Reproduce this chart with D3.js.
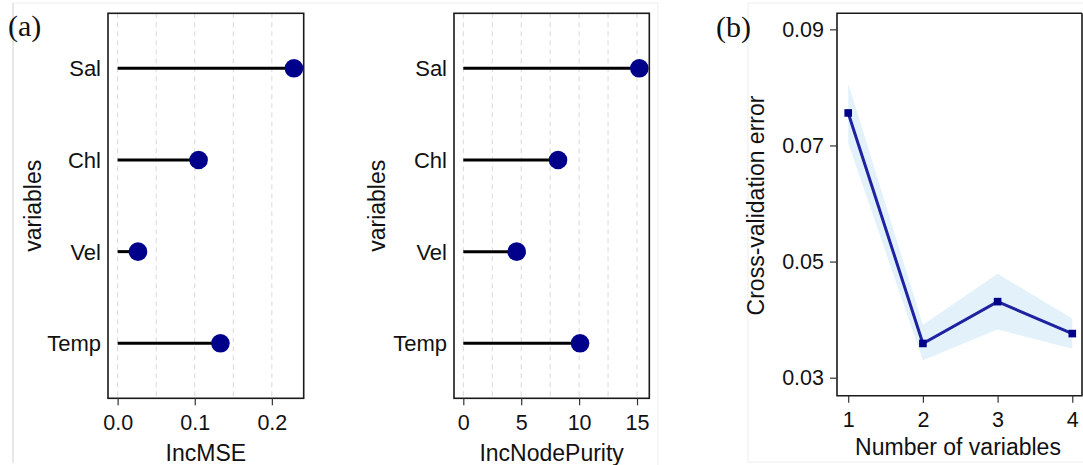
<!DOCTYPE html>
<html><head><meta charset="utf-8">
<script src="https://cdn.jsdelivr.net/npm/d3@7"></script>
<style>
html,body{margin:0;padding:0;background:#fff;}
svg text{font-family:"Liberation Sans",Arial,sans-serif;fill:#111;}
svg text.letter{font-family:"Liberation Serif","Times New Roman",serif;}
</style></head>
<body>
<svg id="chart" width="1083" height="465"></svg>
<script>
// ---- data ----
const variables = ["Sal", "Chl", "Vel", "Temp"];
const incMSE = [0.2286, 0.105, 0.0264, 0.1333];
const incNodePurity = [15.2, 8.18, 4.61, 10.08];
const mseTicks = [0.0, 0.1, 0.2];
const mseGrid = [0, 0.05, 0.1, 0.15, 0.2];
const purityTicks = [0, 5, 10, 15];
const purityGrid = [0, 2.5, 5, 7.5, 10, 12.5, 15];
const nVars = [1, 2, 3, 4];
const cvError = [0.0756, 0.0359, 0.0431, 0.0376];
const cvUpper = [0.0807, 0.0391, 0.0479, 0.0402];
const cvLower = [0.0704, 0.0330, 0.0383, 0.0350];
const cvTicks = [0.03, 0.05, 0.07, 0.09];

const svg = d3.select("#chart");

// faint panel frames
const frames = [
  [[13,3],[13,463],"#d0d0d0"], [[13,3],[658,3],"#ededed"], [[658,3],[658,465],"#ededed"],
  [[748,3],[748,462],"#ededed"], [[748,3],[1083,3],"#ededed"], [[748,462],[1083,462],"#ededed"]
];
frames.forEach(f => svg.append("line").attr("x1",f[0][0]).attr("y1",f[0][1]).attr("x2",f[1][0]).attr("y2",f[1][1])
  .attr("stroke",f[2]).attr("stroke-width",1));

function lollipop(opts) {
  const {x0,x1,y0,y1,domain,values,ticks,grid,fmt,title,labelX,varX} = opts;
  const x = d3.scaleLinear().domain(domain).range([x0,x1]);
  const y = d3.scalePoint().domain(variables).range([y0,y1]).padding(0.6);
  const g = svg.append("g");
  g.selectAll(".grid").data(grid).join("line")
    .attr("x1",d=>x(d)).attr("x2",d=>x(d)).attr("y1",y0).attr("y2",y1)
    .attr("stroke","#d9d9d9").attr("stroke-width",1).attr("stroke-dasharray","5,4");
  g.selectAll(".stem").data(variables).join("line")
    .attr("x1",x(0)).attr("x2",(d,i)=>x(values[i])).attr("y1",d=>y(d)).attr("y2",d=>y(d))
    .attr("stroke","#000").attr("stroke-width",3);
  g.selectAll(".dot").data(variables).join("circle")
    .attr("cx",(d,i)=>x(values[i])).attr("cy",d=>y(d)).attr("r",9.3).attr("fill","#00008B");
  g.append("rect").attr("x",x0).attr("y",y0).attr("width",x1-x0).attr("height",y1-y0)
    .attr("fill","none").attr("stroke","#1a1a1a").attr("stroke-width",1.6);
  const ax = g.append("g").attr("transform",`translate(0,${y1})`)
    .call(d3.axisBottom(x).tickValues(ticks).tickFormat(fmt).tickSize(7).tickSizeOuter(0).tickPadding(9));
  ax.select(".domain").remove();
  ax.selectAll("line").attr("stroke","#333").attr("stroke-width",1.2);
  ax.selectAll("text").style("font-size","21.5px").attr("fill","#111");
  g.selectAll(".cat").data(variables).join("text")
    .attr("x",labelX).attr("y",d=>y(d)).attr("dy","0.36em").attr("text-anchor","end")
    .style("font-size","22px").text(d=>d);
  g.append("text").attr("x",(x0+x1)/2).attr("y",461).attr("text-anchor","middle").style("font-size","23px").text(title);
  g.append("text").attr("transform",`translate(${varX},${(y0+y1)/2}) rotate(-90)`)
    .attr("text-anchor","middle").attr("dy","0.36em").style("font-size","23px").text("variables");
}

lollipop({x0:108,x1:303.7,y0:13.3,y1:398.3,domain:[-0.0125,0.2413],values:incMSE,ticks:mseTicks,grid:mseGrid,
  fmt:d3.format(".1f"),title:"IncMSE",labelX:101,varX:33});
lollipop({x0:454,x1:649.3,y0:13.3,y1:398.3,domain:[-0.803,16.06],values:incNodePurity,ticks:purityTicks,grid:purityGrid,
  fmt:d3.format("d"),title:"IncNodePurity",labelX:447,varX:377});

// panel (b)
(function(){
  const x0=837,x1=1082,y0=13.3,y1=395.7;
  const x = d3.scaleLinear().domain([0.85,4.13]).range([x0,x1]);
  const y = d3.scaleLinear().domain([0.02690,0.09276]).range([y1,y0]);
  const g = svg.append("g");
  const area = d3.area().x((d,i)=>x(nVars[i])).y0((d,i)=>y(cvLower[i])).y1((d,i)=>y(cvUpper[i]));
  g.append("path").datum(nVars).attr("d",area).attr("fill","#e3f2fa");
  const line = d3.line().x((d,i)=>x(nVars[i])).y((d,i)=>y(cvError[i]));
  g.append("path").datum(nVars).attr("d",line).attr("fill","none").attr("stroke","#1e22a0").attr("stroke-width",3);
  g.selectAll(".pt").data(nVars).join("rect")
    .attr("x",(d,i)=>x(d)-3.8).attr("y",(d,i)=>y(cvError[i])-3.8).attr("width",7.6).attr("height",7.6).attr("fill","#00008B");
  g.append("path").attr("d",`M${x1},${y0}H${x0}V${y1}H${x1}V${y0}`)
    .attr("fill","none").attr("stroke","#1a1a1a").attr("stroke-width",1.6);
  const ax = g.append("g").attr("transform",`translate(0,${y1})`)
    .call(d3.axisBottom(x).tickValues(nVars).tickFormat(d3.format("d")).tickSize(7).tickSizeOuter(0).tickPadding(9));
  ax.select(".domain").remove();
  ax.selectAll("line").attr("stroke","#333").attr("stroke-width",1.2);
  ax.selectAll("text").style("font-size","21.5px").attr("fill","#111");
  const ay = g.append("g").attr("transform",`translate(${x0},0)`)
    .call(d3.axisLeft(y).tickValues(cvTicks).tickFormat(d3.format(".2f")).tickSize(7).tickSizeOuter(0).tickPadding(6));
  ay.select(".domain").remove();
  ay.selectAll("line").attr("stroke","#333").attr("stroke-width",1.2);
  ay.selectAll("text").style("font-size","21.5px").attr("fill","#111");
  g.append("text").attr("x",958).attr("y",455).attr("text-anchor","middle").style("font-size","23px").text("Number of variables");
  g.append("text").attr("transform",`translate(756,${(y0+y1)/2+1}) rotate(-90)`)
    .attr("text-anchor","middle").attr("dy","0.36em").style("font-size","23px").text("Cross-validation error");
})();

// panel letters
svg.append("text").attr("class","letter").attr("x",8).attr("y",36).style("font-size","30px").text("(a)");
svg.append("text").attr("class","letter").attr("x",716).attr("y",37).style("font-size","30px").text("(b)");
</script>
</body></html>
